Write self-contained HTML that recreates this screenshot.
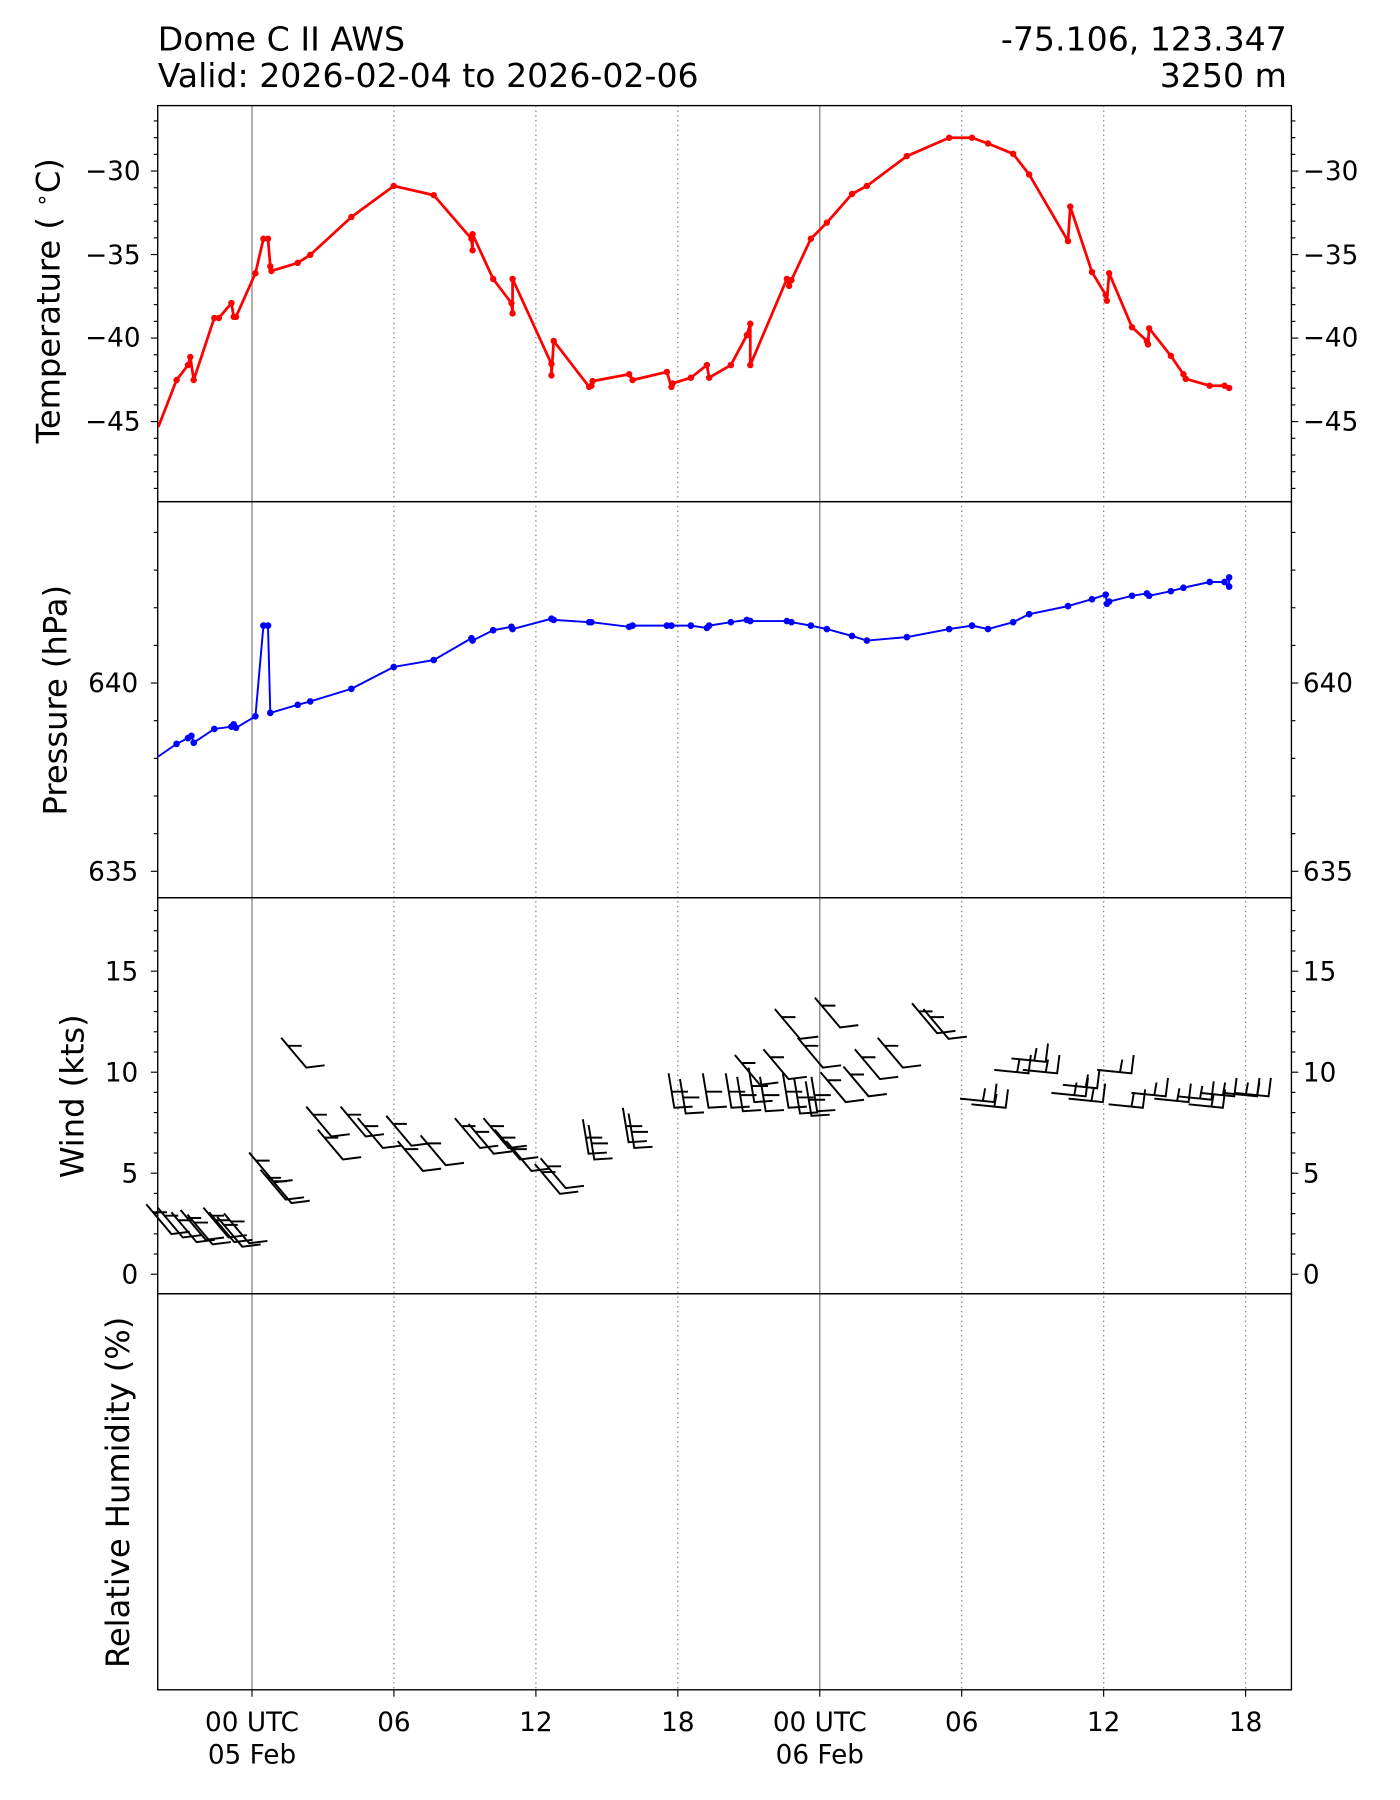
<!DOCTYPE html>
<html><head><meta charset="utf-8"><style>
html,body{margin:0;padding:0;background:#fff}
svg{display:block}
text{font-family:"DejaVu Sans","Liberation Sans",sans-serif;fill:#000}
</style></head><body>
<svg id="s" xmlns="http://www.w3.org/2000/svg" width="1400" height="1800" viewBox="0 0 1225 1568" preserveAspectRatio="none">
<rect width="1225" height="1568" fill="#fff"/>
<g id="g"></g>
<text x="138" y="44" font-size="29">Dome C II AWS</text>
<text x="138" y="76" font-size="29">Valid: 2026-02-04 to 2026-02-06</text>
<text x="1126" y="44" font-size="29" text-anchor="end">-75.106, 123.347</text>
<text x="1126" y="76" font-size="29" text-anchor="end">3250 m</text>
<g font-size="23" text-anchor="end">
<text x="123" y="157">−30</text><text x="123" y="230">−35</text><text x="123" y="302">−40</text><text x="123" y="375">−45</text>
<text x="121" y="603">640</text><text x="121" y="767">635</text>
<text x="121" y="854">15</text><text x="121" y="942">10</text><text x="121" y="1030">5</text><text x="121" y="1118">0</text>
</g>
<g font-size="23">
<text x="1140" y="157">−30</text><text x="1140" y="230">−35</text><text x="1140" y="302">−40</text><text x="1140" y="375">−45</text>
<text x="1140" y="603">640</text><text x="1140" y="767">635</text>
<text x="1140" y="854">15</text><text x="1140" y="942">10</text><text x="1140" y="1030">5</text><text x="1140" y="1118">0</text>
</g>
<g font-size="23" text-anchor="middle">
<text x="220.5" y="1508">00 UTC</text><text x="220.5" y="1536">05 Feb</text>
<text x="344.7" y="1508">06</text><text x="468.9" y="1508">12</text><text x="593.1" y="1508">18</text>
<text x="717.3" y="1508">00 UTC</text><text x="717.3" y="1536">06 Feb</text>
<text x="841.5" y="1508">06</text><text x="965.7" y="1508">12</text><text x="1089.9" y="1508">18</text>
</g>
<g font-size="28" text-anchor="middle">
<text transform="translate(52,262) rotate(-90)">Temperature ( <tspan dy="-9" font-size="19">∘</tspan><tspan dy="9">C)</tspan></text>
<text transform="translate(58,610) rotate(-90)">Pressure (hPa)</text>
<text transform="translate(73,955) rotate(-90)">Wind (kts)</text>
<text transform="translate(113,1300) rotate(-90)">Relative Humidity (%)</text>
</g>
</svg>
<script>
(function(){
var g=document.getElementById('g'),h='';
var L=138,R=1130,P=[92,437,782,1127,1472];
function ln(x1,y1,x2,y2,st,w,extra){h+='<line x1="'+x1+'" y1="'+y1+'" x2="'+x2+'" y2="'+y2+'" stroke="'+st+'" stroke-width="'+w+'" '+(extra||'')+'/>';}
var xs=[220.5,344.7,468.9,593.1,717.3,841.5,965.7,1089.9];
xs.forEach(function(x,i){
 if(i==0||i==4) ln(x,92,x,1472,'#808080',1.1);
 else ln(x,92,x,1472,'#808080',1.1,'stroke-dasharray="1.2,3"');
 ln(x,1472,x,1478,'#000',1);
});
for(var t=-49;t<=-27;t++){var y=149-(t+30)*14.55;var mj=(t%5==0);var l=mj?6:3.5;ln(L-l,y,L,y,'#000',1);ln(R,y,R+l,y,'#000',1);}
for(var p=635;p<=644;p++){var y=595-(p-640)*32.8;var mj=(p%5==0);var l=mj?6:3.5;ln(L-l,y,L,y,'#000',1);ln(R,y,R+l,y,'#000',1);}
for(var k=0;k<=18;k++){var y=1110-k*17.6;var mj=(k%5==0);var l=mj?6:3.5;ln(L-l,y,L,y,'#000',1);ln(R,y,R+l,y,'#000',1);}
P.slice(0,4).forEach(function(t,i){h+='<rect x="'+L+'" y="'+t+'" width="'+(R-L)+'" height="345" fill="none" stroke="#000" stroke-width="1.2"/>';});
var T=[[137,372],[153,331],[163,318],[165,311],[168,331],[186,277],[190,277],[201,264],[203,276],[205,276],[222,238],[229,208],[233,208],[235,232],[236,236],[259,229],[270,222],[306,189],[343,162],[378,170],[411,208],[412,218],[412,204],[430,243],[446,264],[447,273],[447,243],[481,317],[481,327],[483,297],[514,337],[516,336],[517,332],[549,326],[552,331],[582,324],[586,337],[587,334],[603,329],[617,318],[619,329],[638,318],[652,292],[655,282],[655,318],[687,243],[689,249],[691,244],[708,208],[722,194],[744,169],[757,162],[792,136],[829,120],[849,120],[863,125],[885,134],[899,152],[933,210],[935,180],[954,237],[966,257],[967,262],[969,238],[989,285],[1002,297],[1003,300],[1004,286],[1023,310],[1034,326],[1036,330],[1057,336],[1070,336],[1074,338]];
function series(D,c,w,r){h+='<polyline fill="none" stroke="'+c+'" stroke-width="'+w+'" stroke-linejoin="round" points="'+D.map(function(d){return (d[0]+1.5)+','+d[1]}).join(' ')+'"/>';
 D.forEach(function(d){if(d[0]>138)h+='<circle cx="'+(d[0]+1.5)+'" cy="'+d[1]+'" r="'+r+'" fill="'+c+'"/>';});}
h+='<clipPath id="c1"><rect x="138" y="92" width="992" height="690"/></clipPath><g clip-path="url(#c1)">';
series(T,'#ff0000',2.4,2.8);
var Pr=[[137,659],[153,648],[163,643],[166,641],[168,647],[186,635],[201,633],[203,631],[205,634],[222,624],[229,545],[233,545],[235,621],[259,614],[270,611],[306,600],[343,581],[378,575],[411,556],[412,558],[430,549],[446,546],[447,548],[481,539],[483,540],[514,542],[516,542],[549,546],[552,545],[582,545],[586,545],[603,545],[617,547],[619,545],[638,542],[652,540],[655,541],[687,541],[691,542],[708,545],[722,548],[744,554],[757,558],[792,555],[829,548],[849,545],[863,548],[885,542],[899,535],[933,528],[954,522],[966,518],[967,526],[969,524],[989,519],[1002,517],[1004,519],[1023,515],[1034,512],[1057,507],[1070,507],[1074,511],[1074,503]];
series(Pr,'#0000ff',1.7,2.9);
h+='</g>';
var W=[[150,1075,'A'],[160,1078,'A'],[172,1082,'A'],[180,1080,'A'],[186,1084,'A'],[200,1078,'A'],[205,1082,'A'],[212,1086,'A'],[218,1083,'A'],
[240,1030,'A'],[250,1045,'A'],[255,1048,'A'],[268,930,'A'],[290,990,'A'],[300,1010,'A'],[320,990,'A'],[335,1000,'A'],[360,998,'A'],[370,1020,'A'],[390,1015,'A'],[420,1000,'A'],[432,1005,'A'],[445,1000,'A'],[455,1010,'A'],[465,1020,'A'],[490,1040,'A'],[495,1035,'A'],
[515,1005,'V'],[520,1010,'V'],[550,995,'V'],[555,1000,'V'],[590,965,'V'],[600,970,'V'],[620,965,'V'],[640,965,'V'],[650,968,'V'],[660,960,'V'],[670,968,'V'],[690,965,'V'],[700,970,'V'],[710,972,'V'],[715,968,'V'],
[665,945,'A'],[690,940,'A'],[720,930,'A'],[740,960,'A'],[760,955,'A'],[770,940,'A'],[790,930,'A'],[820,900,'A'],[830,905,'A'],[700,905,'A'],[735,895,'A'],
[870,960,'H'],[880,965,'H'],[900,935,'H'],[915,925,'H'],[925,935,'H'],[950,955,'H'],[960,948,'H'],[965,960,'H'],[990,935,'H'],[1000,965,'H'],[1020,955,'H'],[1040,960,'H'],[1060,958,'H'],[1070,965,'H'],[1080,955,'H'],[1100,955,'H'],[1110,955,'H']];
h+='<g stroke="#000" stroke-width="1.7" fill="none">';
W.forEach(function(w){var x=w[0],y=w[1];
 if(w[2]=='A'){h+='<path d="M'+(x-22)+' '+(y-26)+'L'+x+' '+y+'L'+(x+16)+' '+(y-2)+'M'+(x-16)+' '+(y-19)+'L'+(x-4)+' '+(y-19)+'"/>';}
 else if(w[2]=='V'){h+='<path d="M'+(x-5)+' '+(y-30)+'L'+x+' '+y+'L'+(x+16)+' '+(y-1)+'M'+(x-2)+' '+(y-14)+'L'+(x+12)+' '+(y-14)+'"/>';}
 else {h+='<path d="M'+(x-30)+' '+(y-3)+'L'+x+' '+y+'L'+(x+2)+' '+(y-16)+'M'+(x-10)+' '+(y-1)+'L'+(x-8)+' '+(y-12)+'"/>';}
});
h+='</g>';
g.innerHTML=h;
})();
</script>
</body></html>
